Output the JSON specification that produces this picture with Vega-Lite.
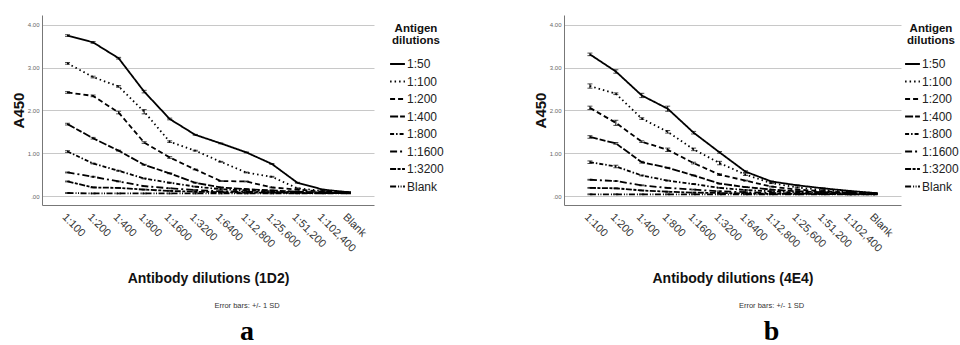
{
  "$schema": "https://vega.github.io/schema/vega-lite/v6.json",
  "padding": {"left": 11, "top": 15, "right": 0, "bottom": 0},
  "background": "white",
  "datasets": {
    "elisa": [
      {"panel":"a","antigen":"1:50","antibody":"1:100","a450":3.75,"sd":0.02},
      {"panel":"a","antigen":"1:50","antibody":"1:200","a450":3.59,"sd":0.02},
      {"panel":"a","antigen":"1:50","antibody":"1:400","a450":3.22,"sd":0.02},
      {"panel":"a","antigen":"1:50","antibody":"1:800","a450":2.44,"sd":0.03},
      {"panel":"a","antigen":"1:50","antibody":"1:1600","a450":1.80,"sd":0.02},
      {"panel":"a","antigen":"1:50","antibody":"1:3200","a450":1.43,"sd":0.01},
      {"panel":"a","antigen":"1:50","antibody":"1:6400","a450":1.23,"sd":0.01},
      {"panel":"a","antigen":"1:50","antibody":"1:12,800","a450":1.02,"sd":0.01},
      {"panel":"a","antigen":"1:50","antibody":"1:25,600","a450":0.75,"sd":0.01},
      {"panel":"a","antigen":"1:50","antibody":"1:51,200","a450":0.31,"sd":0.01},
      {"panel":"a","antigen":"1:50","antibody":"1:102,400","a450":0.15,"sd":0.01},
      {"panel":"a","antigen":"1:50","antibody":"Blank","a450":0.09,"sd":0.01},
      {"panel":"a","antigen":"1:100","antibody":"1:100","a450":3.10,"sd":0.02},
      {"panel":"a","antigen":"1:100","antibody":"1:200","a450":2.78,"sd":0.02},
      {"panel":"a","antigen":"1:100","antibody":"1:400","a450":2.56,"sd":0.02},
      {"panel":"a","antigen":"1:100","antibody":"1:800","a450":1.97,"sd":0.05},
      {"panel":"a","antigen":"1:100","antibody":"1:1600","a450":1.27,"sd":0.02},
      {"panel":"a","antigen":"1:100","antibody":"1:3200","a450":1.06,"sd":0.01},
      {"panel":"a","antigen":"1:100","antibody":"1:6400","a450":0.80,"sd":0.01},
      {"panel":"a","antigen":"1:100","antibody":"1:12,800","a450":0.55,"sd":0.01},
      {"panel":"a","antigen":"1:100","antibody":"1:25,600","a450":0.45,"sd":0.01},
      {"panel":"a","antigen":"1:100","antibody":"1:51,200","a450":0.18,"sd":0.01},
      {"panel":"a","antigen":"1:100","antibody":"1:102,400","a450":0.12,"sd":0.01},
      {"panel":"a","antigen":"1:100","antibody":"Blank","a450":0.09,"sd":0.01},
      {"panel":"a","antigen":"1:200","antibody":"1:100","a450":2.42,"sd":0.02},
      {"panel":"a","antigen":"1:200","antibody":"1:200","a450":2.34,"sd":0.02},
      {"panel":"a","antigen":"1:200","antibody":"1:400","a450":1.95,"sd":0.03},
      {"panel":"a","antigen":"1:200","antibody":"1:800","a450":1.25,"sd":0.02},
      {"panel":"a","antigen":"1:200","antibody":"1:1600","a450":0.90,"sd":0.02},
      {"panel":"a","antigen":"1:200","antibody":"1:3200","a450":0.62,"sd":0.01},
      {"panel":"a","antigen":"1:200","antibody":"1:6400","a450":0.35,"sd":0.01},
      {"panel":"a","antigen":"1:200","antibody":"1:12,800","a450":0.34,"sd":0.01},
      {"panel":"a","antigen":"1:200","antibody":"1:25,600","a450":0.20,"sd":0.01},
      {"panel":"a","antigen":"1:200","antibody":"1:51,200","a450":0.15,"sd":0.01},
      {"panel":"a","antigen":"1:200","antibody":"1:102,400","a450":0.10,"sd":0.01},
      {"panel":"a","antigen":"1:200","antibody":"Blank","a450":0.08,"sd":0.01},
      {"panel":"a","antigen":"1:400","antibody":"1:100","a450":1.68,"sd":0.02},
      {"panel":"a","antigen":"1:400","antibody":"1:200","a450":1.35,"sd":0.02},
      {"panel":"a","antigen":"1:400","antibody":"1:400","a450":1.06,"sd":0.01},
      {"panel":"a","antigen":"1:400","antibody":"1:800","a450":0.73,"sd":0.01},
      {"panel":"a","antigen":"1:400","antibody":"1:1600","a450":0.53,"sd":0.01},
      {"panel":"a","antigen":"1:400","antibody":"1:3200","a450":0.31,"sd":0.01},
      {"panel":"a","antigen":"1:400","antibody":"1:6400","a450":0.20,"sd":0.01},
      {"panel":"a","antigen":"1:400","antibody":"1:12,800","a450":0.16,"sd":0.01},
      {"panel":"a","antigen":"1:400","antibody":"1:25,600","a450":0.13,"sd":0.01},
      {"panel":"a","antigen":"1:400","antibody":"1:51,200","a450":0.10,"sd":0.01},
      {"panel":"a","antigen":"1:400","antibody":"1:102,400","a450":0.08,"sd":0.01},
      {"panel":"a","antigen":"1:400","antibody":"Blank","a450":0.07,"sd":0.01},
      {"panel":"a","antigen":"1:800","antibody":"1:100","a450":1.04,"sd":0.02},
      {"panel":"a","antigen":"1:800","antibody":"1:200","a450":0.76,"sd":0.01},
      {"panel":"a","antigen":"1:800","antibody":"1:400","a450":0.59,"sd":0.01},
      {"panel":"a","antigen":"1:800","antibody":"1:800","a450":0.41,"sd":0.01},
      {"panel":"a","antigen":"1:800","antibody":"1:1600","a450":0.31,"sd":0.01},
      {"panel":"a","antigen":"1:800","antibody":"1:3200","a450":0.22,"sd":0.01},
      {"panel":"a","antigen":"1:800","antibody":"1:6400","a450":0.16,"sd":0.01},
      {"panel":"a","antigen":"1:800","antibody":"1:12,800","a450":0.13,"sd":0.01},
      {"panel":"a","antigen":"1:800","antibody":"1:25,600","a450":0.11,"sd":0.01},
      {"panel":"a","antigen":"1:800","antibody":"1:51,200","a450":0.09,"sd":0.01},
      {"panel":"a","antigen":"1:800","antibody":"1:102,400","a450":0.08,"sd":0.01},
      {"panel":"a","antigen":"1:800","antibody":"Blank","a450":0.07,"sd":0.01},
      {"panel":"a","antigen":"1:1600","antibody":"1:100","a450":0.55,"sd":0.01},
      {"panel":"a","antigen":"1:1600","antibody":"1:200","a450":0.45,"sd":0.01},
      {"panel":"a","antigen":"1:1600","antibody":"1:400","a450":0.34,"sd":0.01},
      {"panel":"a","antigen":"1:1600","antibody":"1:800","a450":0.23,"sd":0.01},
      {"panel":"a","antigen":"1:1600","antibody":"1:1600","a450":0.18,"sd":0.01},
      {"panel":"a","antigen":"1:1600","antibody":"1:3200","a450":0.14,"sd":0.01},
      {"panel":"a","antigen":"1:1600","antibody":"1:6400","a450":0.11,"sd":0.01},
      {"panel":"a","antigen":"1:1600","antibody":"1:12,800","a450":0.10,"sd":0.01},
      {"panel":"a","antigen":"1:1600","antibody":"1:25,600","a450":0.09,"sd":0.01},
      {"panel":"a","antigen":"1:1600","antibody":"1:51,200","a450":0.08,"sd":0.01},
      {"panel":"a","antigen":"1:1600","antibody":"1:102,400","a450":0.07,"sd":0.01},
      {"panel":"a","antigen":"1:1600","antibody":"Blank","a450":0.07,"sd":0.01},
      {"panel":"a","antigen":"1:3200","antibody":"1:100","a450":0.34,"sd":0.01},
      {"panel":"a","antigen":"1:3200","antibody":"1:200","a450":0.20,"sd":0.01},
      {"panel":"a","antigen":"1:3200","antibody":"1:400","a450":0.19,"sd":0.01},
      {"panel":"a","antigen":"1:3200","antibody":"1:800","a450":0.15,"sd":0.01},
      {"panel":"a","antigen":"1:3200","antibody":"1:1600","a450":0.12,"sd":0.01},
      {"panel":"a","antigen":"1:3200","antibody":"1:3200","a450":0.10,"sd":0.01},
      {"panel":"a","antigen":"1:3200","antibody":"1:6400","a450":0.09,"sd":0.01},
      {"panel":"a","antigen":"1:3200","antibody":"1:12,800","a450":0.08,"sd":0.01},
      {"panel":"a","antigen":"1:3200","antibody":"1:25,600","a450":0.08,"sd":0.01},
      {"panel":"a","antigen":"1:3200","antibody":"1:51,200","a450":0.07,"sd":0.01},
      {"panel":"a","antigen":"1:3200","antibody":"1:102,400","a450":0.07,"sd":0.01},
      {"panel":"a","antigen":"1:3200","antibody":"Blank","a450":0.07,"sd":0.01},
      {"panel":"a","antigen":"Blank","antibody":"1:100","a450":0.07,"sd":0.01},
      {"panel":"a","antigen":"Blank","antibody":"1:200","a450":0.06,"sd":0.01},
      {"panel":"a","antigen":"Blank","antibody":"1:400","a450":0.06,"sd":0.01},
      {"panel":"a","antigen":"Blank","antibody":"1:800","a450":0.06,"sd":0.01},
      {"panel":"a","antigen":"Blank","antibody":"1:1600","a450":0.06,"sd":0.01},
      {"panel":"a","antigen":"Blank","antibody":"1:3200","a450":0.06,"sd":0.01},
      {"panel":"a","antigen":"Blank","antibody":"1:6400","a450":0.06,"sd":0.01},
      {"panel":"a","antigen":"Blank","antibody":"1:12,800","a450":0.06,"sd":0.01},
      {"panel":"a","antigen":"Blank","antibody":"1:25,600","a450":0.06,"sd":0.01},
      {"panel":"a","antigen":"Blank","antibody":"1:51,200","a450":0.06,"sd":0.01},
      {"panel":"a","antigen":"Blank","antibody":"1:102,400","a450":0.06,"sd":0.01},
      {"panel":"a","antigen":"Blank","antibody":"Blank","a450":0.06,"sd":0.01},
      {"panel":"b","antigen":"1:50","antibody":"1:100","a450":3.31,"sd":0.03},
      {"panel":"b","antigen":"1:50","antibody":"1:200","a450":2.91,"sd":0.04},
      {"panel":"b","antigen":"1:50","antibody":"1:400","a450":2.35,"sd":0.05},
      {"panel":"b","antigen":"1:50","antibody":"1:800","a450":2.04,"sd":0.06},
      {"panel":"b","antigen":"1:50","antibody":"1:1600","a450":1.48,"sd":0.03},
      {"panel":"b","antigen":"1:50","antibody":"1:3200","a450":1.02,"sd":0.02},
      {"panel":"b","antigen":"1:50","antibody":"1:6400","a450":0.57,"sd":0.02},
      {"panel":"b","antigen":"1:50","antibody":"1:12,800","a450":0.34,"sd":0.01},
      {"panel":"b","antigen":"1:50","antibody":"1:25,600","a450":0.25,"sd":0.01},
      {"panel":"b","antigen":"1:50","antibody":"1:51,200","a450":0.18,"sd":0.01},
      {"panel":"b","antigen":"1:50","antibody":"1:102,400","a450":0.12,"sd":0.01},
      {"panel":"b","antigen":"1:50","antibody":"Blank","a450":0.07,"sd":0.01},
      {"panel":"b","antigen":"1:100","antibody":"1:100","a450":2.57,"sd":0.05},
      {"panel":"b","antigen":"1:100","antibody":"1:200","a450":2.39,"sd":0.02},
      {"panel":"b","antigen":"1:100","antibody":"1:400","a450":1.81,"sd":0.02},
      {"panel":"b","antigen":"1:100","antibody":"1:800","a450":1.50,"sd":0.03},
      {"panel":"b","antigen":"1:100","antibody":"1:1600","a450":1.09,"sd":0.03},
      {"panel":"b","antigen":"1:100","antibody":"1:3200","a450":0.77,"sd":0.04},
      {"panel":"b","antigen":"1:100","antibody":"1:6400","a450":0.50,"sd":0.02},
      {"panel":"b","antigen":"1:100","antibody":"1:12,800","a450":0.30,"sd":0.01},
      {"panel":"b","antigen":"1:100","antibody":"1:25,600","a450":0.20,"sd":0.01},
      {"panel":"b","antigen":"1:100","antibody":"1:51,200","a450":0.14,"sd":0.01},
      {"panel":"b","antigen":"1:100","antibody":"1:102,400","a450":0.10,"sd":0.01},
      {"panel":"b","antigen":"1:100","antibody":"Blank","a450":0.07,"sd":0.01},
      {"panel":"b","antigen":"1:200","antibody":"1:100","a450":2.06,"sd":0.04},
      {"panel":"b","antigen":"1:200","antibody":"1:200","a450":1.71,"sd":0.06},
      {"panel":"b","antigen":"1:200","antibody":"1:400","a450":1.27,"sd":0.02},
      {"panel":"b","antigen":"1:200","antibody":"1:800","a450":1.08,"sd":0.04},
      {"panel":"b","antigen":"1:200","antibody":"1:1600","a450":0.77,"sd":0.02},
      {"panel":"b","antigen":"1:200","antibody":"1:3200","a450":0.50,"sd":0.02},
      {"panel":"b","antigen":"1:200","antibody":"1:6400","a450":0.36,"sd":0.01},
      {"panel":"b","antigen":"1:200","antibody":"1:12,800","a450":0.22,"sd":0.01},
      {"panel":"b","antigen":"1:200","antibody":"1:25,600","a450":0.15,"sd":0.01},
      {"panel":"b","antigen":"1:200","antibody":"1:51,200","a450":0.11,"sd":0.01},
      {"panel":"b","antigen":"1:200","antibody":"1:102,400","a450":0.08,"sd":0.01},
      {"panel":"b","antigen":"1:200","antibody":"Blank","a450":0.06,"sd":0.01},
      {"panel":"b","antigen":"1:400","antibody":"1:100","a450":1.38,"sd":0.03},
      {"panel":"b","antigen":"1:400","antibody":"1:200","a450":1.23,"sd":0.02},
      {"panel":"b","antigen":"1:400","antibody":"1:400","a450":0.79,"sd":0.02},
      {"panel":"b","antigen":"1:400","antibody":"1:800","a450":0.66,"sd":0.01},
      {"panel":"b","antigen":"1:400","antibody":"1:1600","a450":0.48,"sd":0.01},
      {"panel":"b","antigen":"1:400","antibody":"1:3200","a450":0.29,"sd":0.01},
      {"panel":"b","antigen":"1:400","antibody":"1:6400","a450":0.21,"sd":0.01},
      {"panel":"b","antigen":"1:400","antibody":"1:12,800","a450":0.15,"sd":0.01},
      {"panel":"b","antigen":"1:400","antibody":"1:25,600","a450":0.11,"sd":0.01},
      {"panel":"b","antigen":"1:400","antibody":"1:51,200","a450":0.09,"sd":0.01},
      {"panel":"b","antigen":"1:400","antibody":"1:102,400","a450":0.07,"sd":0.01},
      {"panel":"b","antigen":"1:400","antibody":"Blank","a450":0.05,"sd":0.01},
      {"panel":"b","antigen":"1:800","antibody":"1:100","a450":0.79,"sd":0.03},
      {"panel":"b","antigen":"1:800","antibody":"1:200","a450":0.69,"sd":0.03},
      {"panel":"b","antigen":"1:800","antibody":"1:400","a450":0.48,"sd":0.01},
      {"panel":"b","antigen":"1:800","antibody":"1:800","a450":0.36,"sd":0.01},
      {"panel":"b","antigen":"1:800","antibody":"1:1600","a450":0.28,"sd":0.01},
      {"panel":"b","antigen":"1:800","antibody":"1:3200","a450":0.19,"sd":0.01},
      {"panel":"b","antigen":"1:800","antibody":"1:6400","a450":0.14,"sd":0.01},
      {"panel":"b","antigen":"1:800","antibody":"1:12,800","a450":0.11,"sd":0.01},
      {"panel":"b","antigen":"1:800","antibody":"1:25,600","a450":0.08,"sd":0.01},
      {"panel":"b","antigen":"1:800","antibody":"1:51,200","a450":0.07,"sd":0.01},
      {"panel":"b","antigen":"1:800","antibody":"1:102,400","a450":0.06,"sd":0.01},
      {"panel":"b","antigen":"1:800","antibody":"Blank","a450":0.05,"sd":0.01},
      {"panel":"b","antigen":"1:1600","antibody":"1:100","a450":0.38,"sd":0.01},
      {"panel":"b","antigen":"1:1600","antibody":"1:200","a450":0.35,"sd":0.01},
      {"panel":"b","antigen":"1:1600","antibody":"1:400","a450":0.25,"sd":0.01},
      {"panel":"b","antigen":"1:1600","antibody":"1:800","a450":0.19,"sd":0.01},
      {"panel":"b","antigen":"1:1600","antibody":"1:1600","a450":0.15,"sd":0.01},
      {"panel":"b","antigen":"1:1600","antibody":"1:3200","a450":0.11,"sd":0.01},
      {"panel":"b","antigen":"1:1600","antibody":"1:6400","a450":0.09,"sd":0.01},
      {"panel":"b","antigen":"1:1600","antibody":"1:12,800","a450":0.07,"sd":0.01},
      {"panel":"b","antigen":"1:1600","antibody":"1:25,600","a450":0.06,"sd":0.01},
      {"panel":"b","antigen":"1:1600","antibody":"1:51,200","a450":0.05,"sd":0.01},
      {"panel":"b","antigen":"1:1600","antibody":"1:102,400","a450":0.05,"sd":0.01},
      {"panel":"b","antigen":"1:1600","antibody":"Blank","a450":0.05,"sd":0.01},
      {"panel":"b","antigen":"1:3200","antibody":"1:100","a450":0.19,"sd":0.01},
      {"panel":"b","antigen":"1:3200","antibody":"1:200","a450":0.18,"sd":0.01},
      {"panel":"b","antigen":"1:3200","antibody":"1:400","a450":0.13,"sd":0.01},
      {"panel":"b","antigen":"1:3200","antibody":"1:800","a450":0.10,"sd":0.01},
      {"panel":"b","antigen":"1:3200","antibody":"1:1600","a450":0.08,"sd":0.01},
      {"panel":"b","antigen":"1:3200","antibody":"1:3200","a450":0.07,"sd":0.01},
      {"panel":"b","antigen":"1:3200","antibody":"1:6400","a450":0.06,"sd":0.01},
      {"panel":"b","antigen":"1:3200","antibody":"1:12,800","a450":0.05,"sd":0.01},
      {"panel":"b","antigen":"1:3200","antibody":"1:25,600","a450":0.05,"sd":0.01},
      {"panel":"b","antigen":"1:3200","antibody":"1:51,200","a450":0.05,"sd":0.01},
      {"panel":"b","antigen":"1:3200","antibody":"1:102,400","a450":0.04,"sd":0.01},
      {"panel":"b","antigen":"1:3200","antibody":"Blank","a450":0.04,"sd":0.01},
      {"panel":"b","antigen":"Blank","antibody":"1:100","a450":0.04,"sd":0.01},
      {"panel":"b","antigen":"Blank","antibody":"1:200","a450":0.04,"sd":0.01},
      {"panel":"b","antigen":"Blank","antibody":"1:400","a450":0.04,"sd":0.01},
      {"panel":"b","antigen":"Blank","antibody":"1:800","a450":0.04,"sd":0.01},
      {"panel":"b","antigen":"Blank","antibody":"1:1600","a450":0.04,"sd":0.01},
      {"panel":"b","antigen":"Blank","antibody":"1:3200","a450":0.04,"sd":0.01},
      {"panel":"b","antigen":"Blank","antibody":"1:6400","a450":0.04,"sd":0.01},
      {"panel":"b","antigen":"Blank","antibody":"1:12,800","a450":0.04,"sd":0.01},
      {"panel":"b","antigen":"Blank","antibody":"1:25,600","a450":0.04,"sd":0.01},
      {"panel":"b","antigen":"Blank","antibody":"1:51,200","a450":0.04,"sd":0.01},
      {"panel":"b","antigen":"Blank","antibody":"1:102,400","a450":0.04,"sd":0.01},
      {"panel":"b","antigen":"Blank","antibody":"Blank","a450":0.04,"sd":0.01}
    ]
  },
  "data": {"name": "elisa"},
  "spacing": 81,
  "hconcat": [
    {
      "width": 332,
      "height": 190,
      "transform": [{"filter": "datum.panel == 'a'"}],
      "title": {"text": "Error bars: +/- 1 SD", "subtitle": "a"},
      "encoding": {
        "x": {"field": "antibody", "type": "ordinal",
          "sort": ["1:100","1:200","1:400","1:800","1:1600","1:3200","1:6400","1:12,800","1:25,600","1:51,200","1:102,400","Blank"],
          "scale": {"type": "point", "padding": 1.14},
          "axis": {"title": "Antibody dilutions (1D2)"}},
        "y": {"field": "a450", "type": "quantitative",
          "scale": {"domain": [-0.21, 4.23], "nice": false, "zero": false},
          "axis": {"title": "A450", "values": [0,1,2,3,4]}}
      },
      "layer": [
        {"mark": {"type": "line", "color": "black", "strokeWidth": 1.8},
         "encoding": {"strokeDash": {"field": "antigen", "type": "nominal",
           "sort": ["1:50","1:100","1:200","1:400","1:800","1:1600","1:3200","Blank"],
           "scale": {"domain": ["1:50","1:100","1:200","1:400","1:800","1:1600","1:3200","Blank"],
             "range": [[1,0],[1.5,3],[5,3],[8,2,6,2],[4,2,1.5,2],[7,3,2,3],[6,1.5,3,1.5],[6,2,1,1.5,1,1.5]]},
           "legend": {"title": ["Antigen","dilutions"], "offset": 7}}}},
        {"mark": {"type": "errorbar", "color": "black", "ticks": {"size": 5, "color": "black"}},
         "encoding": {"yError": {"field": "sd"}, "detail": {"field": "antigen"}}}
      ]
    },
    {
      "width": 337,
      "height": 190,
      "transform": [{"filter": "datum.panel == 'b'"}],
      "title": {"text": "Error bars: +/- 1 SD", "subtitle": "b"},
      "encoding": {
        "x": {"field": "antibody", "type": "ordinal",
          "sort": ["1:100","1:200","1:400","1:800","1:1600","1:3200","1:6400","1:12,800","1:25,600","1:51,200","1:102,400","Blank"],
          "scale": {"type": "point", "padding": 1.14},
          "axis": {"title": "Antibody dilutions (4E4)"}},
        "y": {"field": "a450", "type": "quantitative",
          "scale": {"domain": [-0.21, 4.23], "nice": false, "zero": false},
          "axis": {"title": "A450", "values": [0,1,2,3,4]}}
      },
      "layer": [
        {"mark": {"type": "line", "color": "black", "strokeWidth": 1.8},
         "encoding": {"strokeDash": {"field": "antigen", "type": "nominal",
           "sort": ["1:50","1:100","1:200","1:400","1:800","1:1600","1:3200","Blank"],
           "scale": {"domain": ["1:50","1:100","1:200","1:400","1:800","1:1600","1:3200","Blank"],
             "range": [[1,0],[1.5,3],[5,3],[8,2,6,2],[4,2,1.5,2],[7,3,2,3],[6,1.5,3,1.5],[6,2,1,1.5,1,1.5]]},
           "legend": {"title": ["Antigen","dilutions"], "offset": -5}}}},
        {"mark": {"type": "errorbar", "color": "black", "ticks": {"size": 5, "color": "black"}},
         "encoding": {"yError": {"field": "sd"}, "detail": {"field": "antigen"}}}
      ]
    }
  ],
  "resolve": {"scale": {"strokeDash": "independent"}, "legend": {"strokeDash": "independent"}},
  "config": {
    "font": "Liberation Sans",
    "view": {"stroke": null},
    "title": {"orient": "bottom", "anchor": "middle", "frame": "group", "dx": 39, "offset": 17,
      "fontSize": 7.5, "fontWeight": "normal", "font": "Liberation Sans", "color": "#333",
      "subtitleFont": "Liberation Serif", "subtitleFontSize": 28, "subtitleFontWeight": "bold",
      "subtitleColor": "#000", "subtitlePadding": 8},
    "axisX": {"labelAngle": 45, "labelFontSize": 11, "labelColor": "#333", "ticks": false,
      "domainColor": "#777", "grid": false, "labelPadding": 6,
      "titleFontSize": 14, "titleFontWeight": "bold", "titleColor": "#111", "titlePadding": 18},
    "axisY": {"labelFontSize": 6, "labelColor": "#666", "ticks": false, "domainColor": "#777",
      "gridColor": "#c8c8c8", "labelPadding": 3,
      "labelExpr": "datum.value == 0 ? '.00' : format(datum.value, '.2f')",
      "titleFontSize": 15, "titleFontWeight": "bold", "titleColor": "#111", "titlePadding": 1},
    "legend": {"orient": "right", "padding": 8, "titleFontSize": 11.5, "titleFontWeight": "bold",
      "titleColor": "#111", "titleAlign": "center", "titleAnchor": "middle", "titlePadding": 9, "titleLineHeight": 12,
      "labelFontSize": 12, "labelColor": "#222", "labelOffset": 1, "rowPadding": 2.5,
      "symbolStrokeColor": "black", "symbolStrokeWidth": 2, "symbolSize": 220, "symbolType": "stroke"}
  }
}
